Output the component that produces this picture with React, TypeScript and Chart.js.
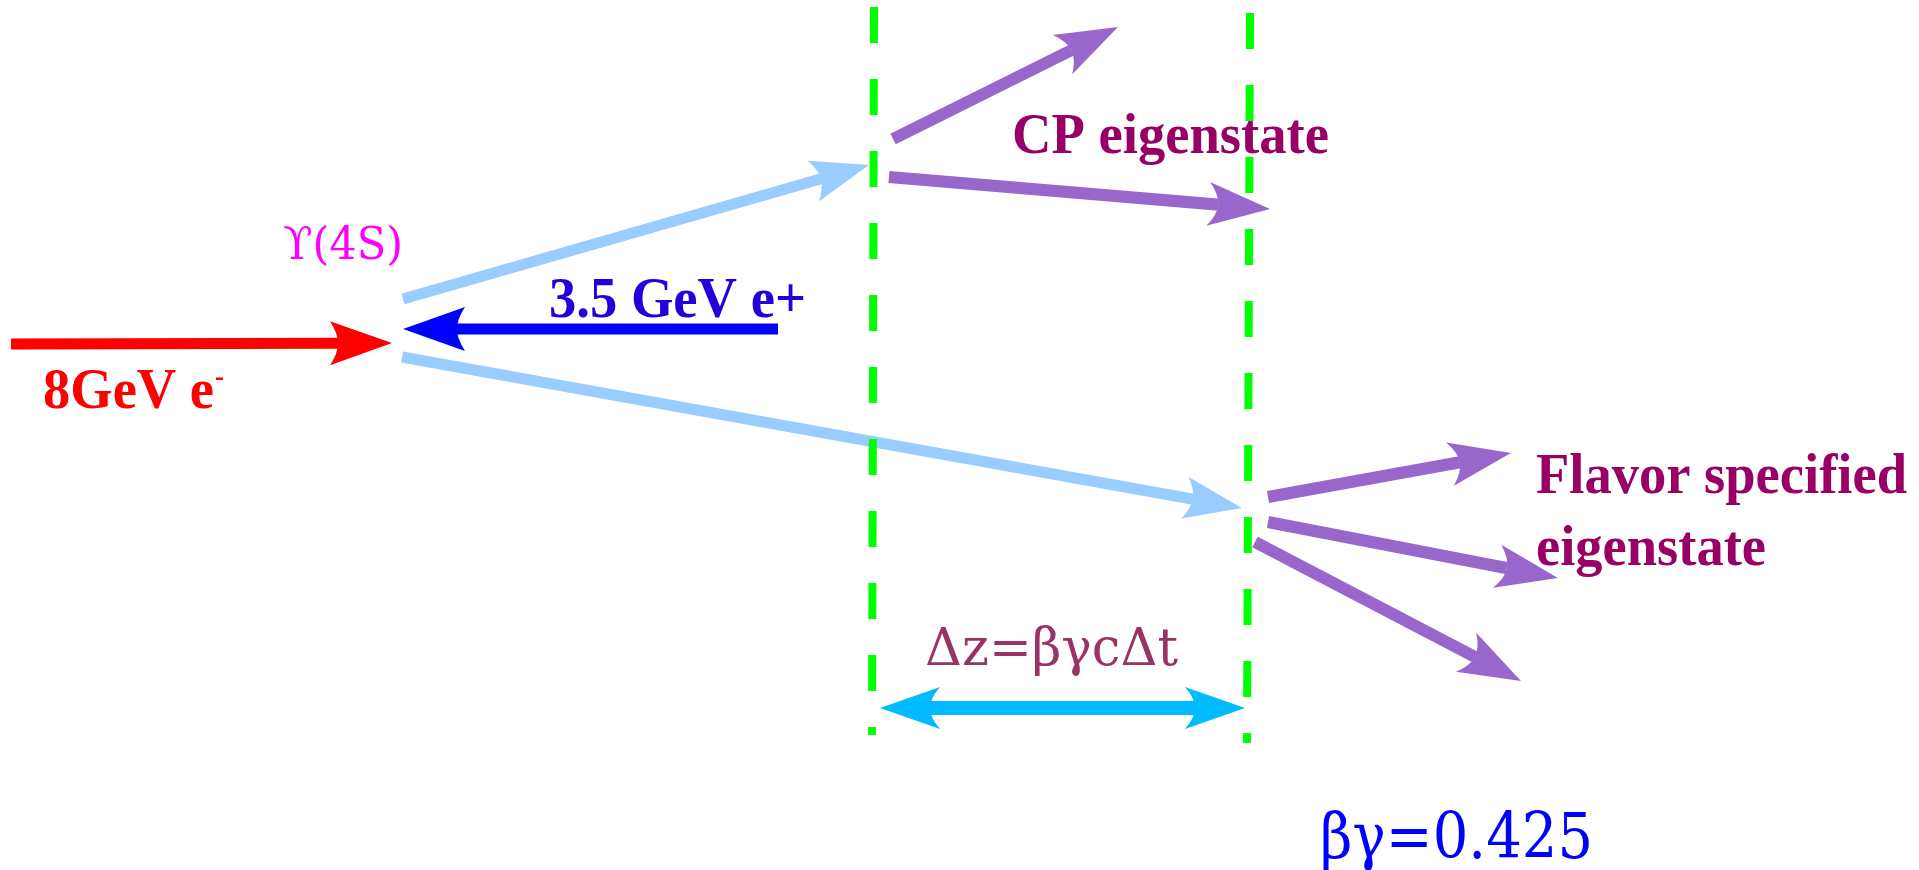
import React, { useEffect, useRef } from "react";
import Chart from "chart.js/auto";

// track end points in diagram units (0..1919 across, 0..870 down)
const electronBeam = [{ x: 11, y: 344 }, { x: 392, y: 343 }];
const positronBeam = [{ x: 778, y: 329 }, { x: 403, y: 329 }];
const bMesonCP = [{ x: 403, y: 299 }, { x: 869, y: 165 }];
const bMesonTag = [{ x: 402, y: 357 }, { x: 1242, y: 508 }];
const cpDaughterUpper = [{ x: 893, y: 139 }, { x: 1118, y: 27 }];
const cpDaughterLower = [{ x: 889, y: 177 }, { x: 1270, y: 209 }];
const tagDaughter1 = [{ x: 1268, y: 497 }, { x: 1511, y: 453 }];
const tagDaughter2 = [{ x: 1268, y: 522 }, { x: 1558, y: 578 }];
const tagDaughter3 = [{ x: 1255, y: 542 }, { x: 1521, y: 681 }];
const cpVertex = [{ x: 874, y: 7 }, { x: 872, y: 735 }];
const tagVertex = [{ x: 1250, y: 13 }, { x: 1247, y: 743 }];
const deltaZ = [{ x: 880, y: 708 }, { x: 1245, y: 708 }];

const SERIF_BOLD = "bold 56px 'Liberation Serif', 'Times New Roman', serif";

const labels = [
  { text: "\u03D2(4S)", x: 283, y: 259, font: "44px 'DejaVu Serif'", color: "#ff00ff", width: 120 },
  { text: "3.5 GeV e+", x: 549, y: 317, font: SERIF_BOLD, color: "#2200dd", width: 257 },
  { text: "8GeV e", x: 43, y: 408, font: SERIF_BOLD, color: "#ff0000", width: 171 },
  { text: "-", x: 215, y: 386, font: "bold 30px 'Liberation Serif', serif", color: "#ff0000", width: 9 },
  { text: "CP eigenstate", x: 1012, y: 153, font: SERIF_BOLD, color: "#990066", width: 317 },
  { text: "Flavor specified", x: 1536, y: 493, font: SERIF_BOLD, color: "#990066", width: 371 },
  { text: "eigenstate", x: 1536, y: 565, font: SERIF_BOLD, color: "#990066", width: 230 },
  { text: "\u0394z=\u03B2\u03B3c\u0394t", x: 925, y: 665, font: "52px 'DejaVu Serif'", color: "#993366", width: 253 },
  { text: "\u03B2\u03B3=0.425", x: 1320, y: 858, font: "63px 'DejaVu Serif'", color: "#0000ff", width: 273 },
];

type Pt = { x: number; y: number };

function unit(a: Pt, b: Pt) {
  const dx = b.x - a.x;
  const dy = b.y - a.y;
  const m = Math.hypot(dx, dy) || 1;
  return { ux: dx / m, uy: dy / m };
}

function drawHead(ctx: CanvasRenderingContext2D, tip: Pt, from: Pt, len: number, half: number, notch: number, color: string) {
  const { ux, uy } = unit(from, tip);
  const nx = -uy;
  const ny = ux;
  const bx = tip.x - ux * len;
  const by = tip.y - uy * len;
  const kx = tip.x - ux * (len - notch);
  const ky = tip.y - uy * (len - notch);
  ctx.beginPath();
  ctx.moveTo(tip.x, tip.y);
  ctx.lineTo(bx + nx * half, by + ny * half);
  ctx.quadraticCurveTo(kx + nx * half * 0.45, ky + ny * half * 0.45, kx, ky);
  ctx.quadraticCurveTo(kx - nx * half * 0.45, ky - ny * half * 0.45, bx - nx * half, by - ny * half);
  ctx.closePath();
  ctx.fillStyle = color;
  ctx.fill();
}

const arrowPlugin = {
  id: "arrowHeads",
  beforeDatasetsDraw(chart: any) {
    const ctx = chart.ctx as CanvasRenderingContext2D;
    ctx.save();
    ctx.textAlign = "left";
    ctx.textBaseline = "alphabetic";
    const xs = chart.scales.x;
    const ys = chart.scales.y;
    labels.forEach((l) => {
      ctx.font = l.font;
      ctx.fillStyle = l.color;
      ctx.fillText(l.text, xs.getPixelForValue(l.x), ys.getPixelForValue(l.y), l.width);
    });
    ctx.restore();
  },
  beforeDatasetDraw(chart: any, args: any) {
    const ds = chart.data.datasets[args.index];
    if (!ds.head) return;
    const pts = args.meta.data;
    const a = { x: pts[0].x, y: pts[0].y };
    const b = { x: pts[1].x, y: pts[1].y };
    const { ux, uy } = unit(a, b);
    const nx = -uy;
    const ny = ux;
    const back = ds.head.len - ds.head.notch;
    const big = 4000;
    const e = { x: b.x - ux * back, y: b.y - uy * back };
    const s = ds.head.both ? { x: a.x + ux * back, y: a.y + uy * back } : { x: a.x - ux * big, y: a.y - uy * big };
    const ctx = chart.ctx as CanvasRenderingContext2D;
    ctx.save();
    ctx.beginPath();
    ctx.moveTo(s.x + nx * big, s.y + ny * big);
    ctx.lineTo(e.x + nx * big, e.y + ny * big);
    ctx.lineTo(e.x - nx * big, e.y - ny * big);
    ctx.lineTo(s.x - nx * big, s.y - ny * big);
    ctx.closePath();
    ctx.clip();
  },
  afterDatasetDraw(chart: any, args: any) {
    const ds = chart.data.datasets[args.index];
    if (!ds.head) return;
    const ctx = chart.ctx as CanvasRenderingContext2D;
    ctx.restore();
    const pts = args.meta.data;
    const a = { x: pts[0].x, y: pts[0].y };
    const b = { x: pts[1].x, y: pts[1].y };
    const h = ds.head;
    drawHead(ctx, b, a, h.len, h.half, h.notch, ds.borderColor);
    if (h.both) drawHead(ctx, a, b, h.len, h.half, h.notch, ds.borderColor);
  },
};

function track(data: Pt[], color: string, width: number, head: any) {
  return {
    data,
    showLine: true,
    borderColor: color,
    backgroundColor: color,
    borderWidth: width,
    borderCapStyle: "butt",
    pointRadius: 0,
    pointHoverRadius: 0,
    fill: false,
    tension: 0,
    head,
  };
}

function vertexLine(data: Pt[]) {
  return {
    data,
    showLine: true,
    borderColor: "#00ff00",
    borderWidth: 8,
    borderDash: [36, 36],
    borderCapStyle: "butt",
    pointRadius: 0,
    pointHoverRadius: 0,
    fill: false,
  };
}

const App: React.FC = () => {
  const canvasRef = useRef<HTMLCanvasElement>(null);
  const chartRef = useRef<Chart | null>(null);

  useEffect(() => {
    if (!canvasRef.current) return;
    if (chartRef.current) chartRef.current.destroy();
    const beamHead = { len: 62, half: 22, notch: 8 };
    const bHead = { len: 58, half: 21, notch: 8 };
    const dHead = { len: 62, half: 22, notch: 10 };
    chartRef.current = new Chart(canvasRef.current, {
      type: "scatter",
      data: {
        datasets: [
          vertexLine(cpVertex),
          vertexLine(tagVertex),
          track(electronBeam, "#ff0000", 11, beamHead),
          track(positronBeam, "#0000ff", 11, beamHead),
          track(bMesonCP, "#99ccff", 11, bHead),
          track(bMesonTag, "#99ccff", 11, bHead),
          track(cpDaughterUpper, "#9966cc", 12, dHead),
          track(cpDaughterLower, "#9966cc", 12, dHead),
          track(tagDaughter1, "#9966cc", 12, dHead),
          track(tagDaughter2, "#9966cc", 12, dHead),
          track(tagDaughter3, "#9966cc", 12, dHead),
          track(deltaZ, "#00bbff", 14, { len: 60, half: 21, notch: 10, both: true }),
        ] as any,
      },
      options: {
        animation: false,
        responsive: true,
        maintainAspectRatio: false,
        layout: { padding: 0 },
        events: [],
        scales: {
          x: { type: "linear", min: 0, max: 1919, display: false },
          y: { type: "linear", min: 0, max: 870, reverse: true, display: false },
        },
        plugins: {
          legend: { display: false },
          tooltip: { enabled: false },
        },
      },
      plugins: [arrowPlugin],
    });

    return () => {
      if (chartRef.current) {
        chartRef.current.destroy();
        chartRef.current = null;
      }
    };
  }, []);

  return (
    <div style={{ position: "absolute", left: 0, top: 0, width: 1919, height: 870, background: "#fff" }}>
      <canvas ref={canvasRef} />
    </div>
  );
};

export default App;
